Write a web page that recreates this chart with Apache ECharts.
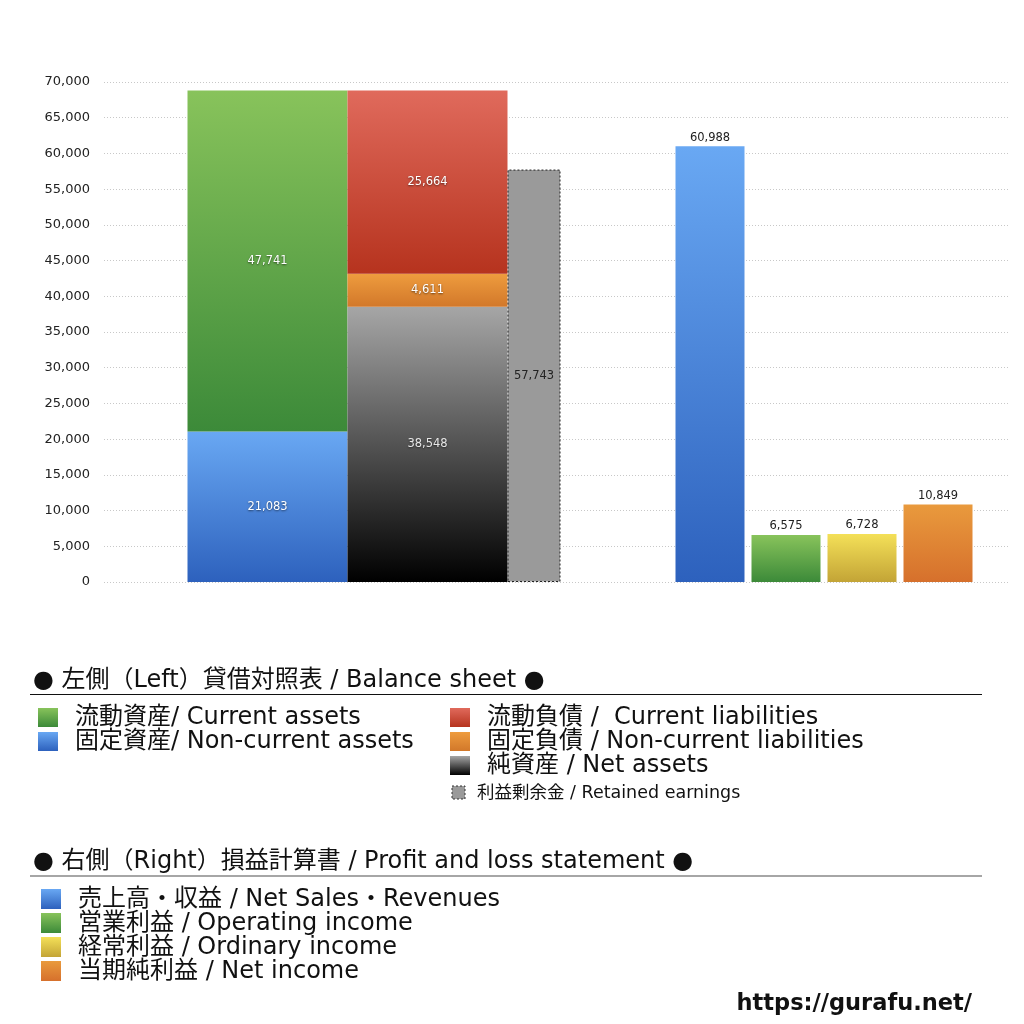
<!DOCTYPE html>
<html>
<head>
<meta charset="utf-8">
<script src="https://cdn.jsdelivr.net/npm/echarts@6/dist/echarts.min.js"></script>
<style>
html,body{margin:0;padding:0;background:#fff;}
#chart{width:1024px;height:1024px;}
</style>
</head>
<body>
<div id="chart"></div>
<script>
// ---- data ----
const bsCategories = ['貸借対照表'];
const nonCurrentAssets = [21083];
const currentAssets = [47741];
const netAssets = [38548];
const nonCurrentLiabilities = [4611];
const currentLiabilities = [25664];
const retainedEarnings = [57743];
const plCategories = ['売上高・収益', '営業利益', '経常利益', '当期純利益'];
const plValues = [60988, 6575, 6728, 10849];
const yMin = 0, yMax = 70000, yInterval = 5000;

const FONT = '"DejaVu Sans", "Noto Sans CJK JP", sans-serif';
const G = echarts.graphic;
function grad(top, bottom) {
  return new G.LinearGradient(0, 0, 0, 1, [{offset: 0, color: top}, {offset: 1, color: bottom}]);
}
const C = {
  green: ['#88c35b', '#3c8a39'],
  blue: ['#69a8f3', '#2d61bd'],
  red: ['#e06a5c', '#b6331e'],
  orange: ['#ee9c3e', '#d2782a'],
  black: ['#a6a6a6', '#000000'],
  yellow: ['#f4e058', '#c3a436'],
  orange2: ['#e99a3d', '#d6702c']
};
const fmt = v => Number(v).toLocaleString('en-US');
const inLabel = (color) => ({
  show: true, position: 'inside', fontSize: 11.5, fontFamily: FONT, color: color,
  textShadowColor: 'rgba(0,0,0,0.55)', textShadowBlur: 2, textShadowOffsetX: 0, textShadowOffsetY: 1,
  formatter: p => fmt(p.value)
});

const chart = echarts.init(document.getElementById('chart'));

const graphics = [];
function addText(x, y, text, size, opts) {
  graphics.push(Object.assign({
    type: 'text', x: x, y: y,
    style: {text: text, fontSize: size, fontFamily: FONT, fill: '#111', verticalAlign: 'middle', align: 'left'}
  }, opts || {}));
}
function addSwatch(x, y, w, h, fill, extra) {
  graphics.push({type: 'rect', shape: {x: x, y: y, width: w, height: h}, style: Object.assign({fill: fill}, extra || {})});
}
const LS = 24;
// Section 1
addText(33, 681, '● 左側（Left）貸借対照表 / Balance sheet ●', LS);
graphics.push({type: 'line', shape: {x1: 30, y1: 694.5, x2: 982, y2: 694.5}, style: {stroke: '#111', lineWidth: 1}});
addSwatch(38, 708, 20, 19, grad(C.green[0], C.green[1]));
addText(75, 718, '流動資産/ Current assets', LS);
addSwatch(38, 732, 20, 19, grad(C.blue[0], C.blue[1]));
addText(75, 742, '固定資産/ Non-current assets', LS);
addSwatch(450, 708, 20, 19, grad(C.red[0], C.red[1]));
addText(487, 718, '流動負債 /  Current liabilities', LS);
addSwatch(450, 732, 20, 19, grad(C.orange[0], C.orange[1]));
addText(487, 742, '固定負債 / Non-current liabilities', LS);
addSwatch(450, 756, 20, 19, grad(C.black[0], C.black[1]));
addText(487, 766, '純資産 / Net assets', LS);
addSwatch(452, 786, 13, 13, '#9a9a9a', {stroke: '#333', lineWidth: 1, lineDash: [2, 2]});
addText(477, 793, '利益剰余金 / Retained earnings', 17.5);
// Section 2
addText(33, 862, '● 右側（Right）損益計算書 / Profit and loss statement ●', LS);
graphics.push({type: 'line', shape: {x1: 30, y1: 876, x2: 982, y2: 876}, style: {stroke: '#888', lineWidth: 1.5}});
addSwatch(41, 889, 20, 20, grad(C.blue[0], C.blue[1]));
addText(78, 900, '売上高・収益 / Net Sales・Revenues', LS);
addSwatch(41, 913, 20, 20, grad(C.green[0], C.green[1]));
addText(78, 924, '営業利益 / Operating income', LS);
addSwatch(41, 937, 20, 20, grad(C.yellow[0], C.yellow[1]));
addText(78, 948, '経常利益 / Ordinary income', LS);
addSwatch(41, 961, 20, 20, grad(C.orange2[0], C.orange2[1]));
addText(78, 972, '当期純利益 / Net income', LS);
// URL
graphics.push({type: 'text', x: 972, y: 1004,
  style: {text: 'https://gurafu.net/', fontSize: 22.5, fontWeight: 'bold', fontFamily: FONT, fill: '#111', align: 'right', verticalAlign: 'middle'}});

const yHidden = (gi) => ({type: 'value', gridIndex: gi, min: yMin, max: yMax, interval: yInterval, show: false, splitLine: {show: false}});

chart.setOption({
  animation: false,
  backgroundColor: '#fff',
  textStyle: {fontFamily: FONT},
  grid: [
    {left: 104, right: 14, top: 82, height: 500},
    {left: 187, width: 374, top: 82, height: 500},
    {left: 672, width: 304, top: 82, height: 500}
  ],
  xAxis: [
    {type: 'category', gridIndex: 0, data: [''], show: false},
    {type: 'category', gridIndex: 1, data: bsCategories, show: false},
    {type: 'category', gridIndex: 2, data: plCategories, show: false}
  ],
  yAxis: [
    {type: 'value', gridIndex: 0, min: yMin, max: yMax, interval: yInterval,
      axisLine: {show: false}, axisTick: {show: false},
      axisLabel: {color: '#222', fontSize: 13, fontFamily: FONT, margin: 14, formatter: v => fmt(v)},
      splitLine: {show: true, lineStyle: {color: '#c8c8c8', type: [1, 2], width: 1}}},
    yHidden(1), yHidden(2)
  ],
  series: [
    {type: 'bar', xAxisIndex: 1, yAxisIndex: 1, stack: 'assets', barWidth: 160, barGap: 0, name: '固定資産',
      data: nonCurrentAssets, itemStyle: {color: grad(C.blue[0], C.blue[1])}, label: inLabel('#fff')},
    {type: 'bar', xAxisIndex: 1, yAxisIndex: 1, stack: 'assets', barWidth: 160, barGap: 0, name: '流動資産',
      data: currentAssets, itemStyle: {color: grad(C.green[0], C.green[1])}, label: inLabel('#fff')},
    {type: 'bar', xAxisIndex: 1, yAxisIndex: 1, stack: 'liab', barWidth: 160, barGap: 0, name: '純資産',
      data: netAssets, itemStyle: {color: grad(C.black[0], C.black[1])}, label: inLabel('#e6e6e6')},
    {type: 'bar', xAxisIndex: 1, yAxisIndex: 1, stack: 'liab', barWidth: 160, barGap: 0, name: '固定負債',
      data: nonCurrentLiabilities, itemStyle: {color: grad(C.orange[0], C.orange[1])}, label: inLabel('#fff')},
    {type: 'bar', xAxisIndex: 1, yAxisIndex: 1, stack: 'liab', barWidth: 160, barGap: 0, name: '流動負債',
      data: currentLiabilities, itemStyle: {color: grad(C.red[0], C.red[1])}, label: inLabel('#fff')},
    {type: 'bar', xAxisIndex: 1, yAxisIndex: 1, stack: 'ret', barWidth: 53, barGap: 0, name: '利益剰余金',
      data: retainedEarnings,
      itemStyle: {color: '#9a9a9a', borderColor: '#222', borderWidth: 1, borderType: [2, 2]},
      label: {show: true, position: 'inside', fontSize: 11.5, fontFamily: FONT, color: '#222', formatter: p => fmt(p.value)}},
    {type: 'bar', xAxisIndex: 2, yAxisIndex: 2, barWidth: 69, name: '損益計算書',
      data: plValues.map((v, i) => ({value: v, itemStyle: {color: grad.apply(null, [C.blue, C.green, C.yellow, C.orange2][i])}})),
      label: {show: true, position: 'top', distance: 3, fontSize: 11.5, fontFamily: FONT, color: '#222', formatter: p => fmt(p.value)}}
  ],
  graphic: graphics
});
</script>
</body>
</html>
